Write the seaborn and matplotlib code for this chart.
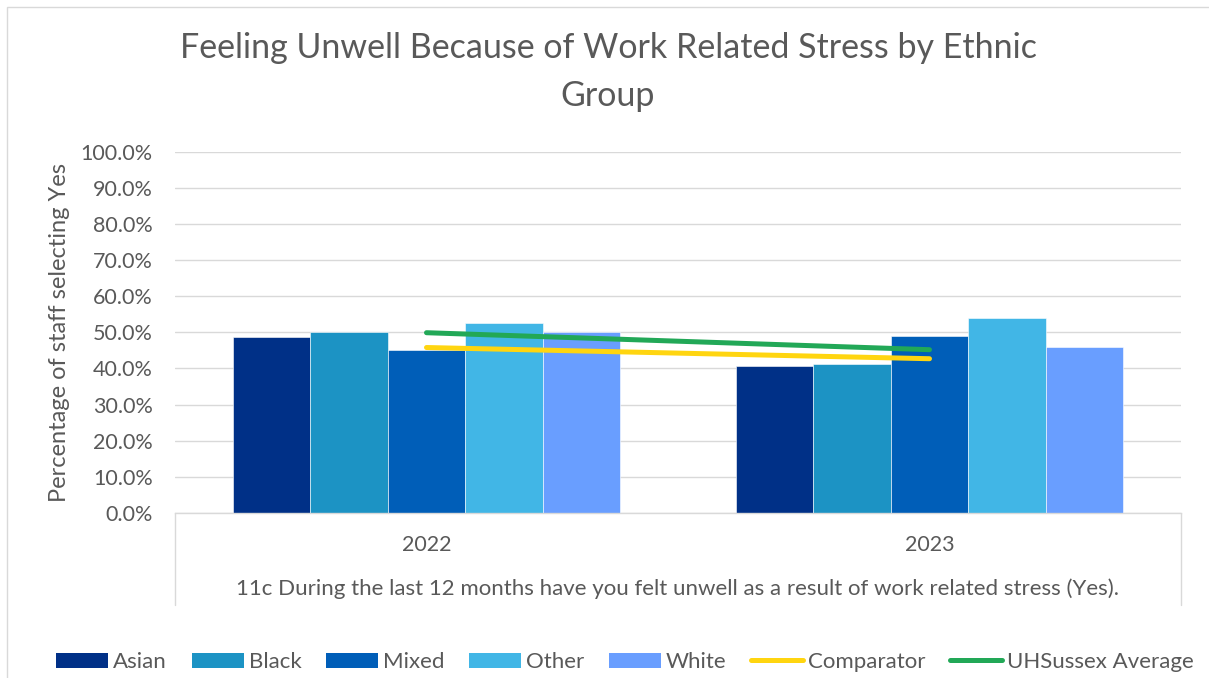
import numpy as np
import pandas as pd
import matplotlib
matplotlib.use("Agg")
import matplotlib.pyplot as plt
import seaborn as sns
from matplotlib.patches import Patch, Rectangle
from matplotlib.lines import Line2D

# 数据
years = ["2022", "2023"]
groups = ["Asian", "Black", "Mixed", "Other", "White"]
asian = [0.487, 0.407]
black = [0.500, 0.413]
mixed = [0.450, 0.490]
other = [0.525, 0.539]
white = [0.500, 0.459]
comparator = [0.458, 0.427]
uhsussex_avg = [0.499, 0.452]

bar_colors = ["#003087", "#1C93C4", "#005EB8", "#41B6E6", "#699EFF"]
comp_color = "#FFD510"
avg_color = "#22A857"
text_color = "#595959"
grid_color = "#D9D9D9"

df = pd.DataFrame({
    "year": years * len(groups),
    "group": [g for g in groups for _ in years],
    "value": asian + black + mixed + other + white,
})

sns.set_theme(style="white")
plt.rcParams["font.family"] = ["Lato", "DejaVu Sans"]

fig = plt.figure(figsize=(12.09, 6.78), dpi=100)
ax = fig.add_axes([175 / 1209, 1 - 513 / 678, (1181 - 175) / 1209, (513 - 151.7) / 678])

sns.barplot(data=df, x="year", y="value", hue="group", hue_order=groups,
            palette=bar_colors, width=0.77, saturation=1, legend=False,
            edgecolor="white", linewidth=0.4, ax=ax, zorder=2)

xpos = np.arange(len(years))
sns.lineplot(x=xpos, y=comparator, color=comp_color, linewidth=3.6,
             solid_capstyle="round", ax=ax, zorder=3)
sns.lineplot(x=xpos, y=uhsussex_avg, color=avg_color, linewidth=3.6,
             solid_capstyle="round", ax=ax, zorder=4)

ax.set_xlim(-0.5, len(years) - 0.5)
ax.set_ylim(0, 1.0)
ax.set_yticks(np.arange(0, 1.01, 0.1))
ax.yaxis.set_major_formatter(matplotlib.ticker.FuncFormatter(lambda v, _: f"{v*100:.1f}%"))
ax.yaxis.grid(True, color=grid_color, linewidth=1.0, zorder=0)
ax.set_axisbelow(True)
for s in ["left", "right", "top"]:
    ax.spines[s].set_visible(False)
ax.spines["bottom"].set_color(grid_color)
ax.spines["bottom"].set_linewidth(1.0)

ax.tick_params(axis="y", labelsize=15.5, colors=text_color, length=0, pad=16)
ax.tick_params(axis="x", labelsize=15.5, colors=text_color, length=0, pad=16)
ax.set_xlabel("")
ax.set_ylabel("Percentage of staff selecting Yes", fontsize=17, color=text_color, labelpad=8)

# 多级类别轴的框线
box_depth = (605 - 513) / (513 - 151.7)
for xa in [0, 1]:
    ax.plot([xa, xa], [0, -box_depth], transform=ax.transAxes, color=grid_color,
            linewidth=1.0, clip_on=False)
ax.text(0.5, -(589 - 513) / (513 - 151.7),
        "11c During the last 12 months have you felt unwell as a result of work related stress (Yes).",
        transform=ax.transAxes, ha="center", va="center", fontsize=16, color=text_color)

fig.text(608 / 1209, 1 - 72 / 678, "Feeling Unwell Because of Work Related Stress by Ethnic\nGroup",
         ha="center", va="center", fontsize=24.5, color=text_color, linespacing=1.62)

# 外框
fig.add_artist(Rectangle((7 / 1209, -0.1), 1.2, 1 - 7 / 678 + 0.1, transform=fig.transFigure,
                         fill=False, edgecolor=grid_color, linewidth=1.0))

handles = [Patch(facecolor=c, edgecolor="none") for c in bar_colors]
handles += [Line2D([0], [0], color=comp_color, linewidth=3.6, solid_capstyle="round"),
            Line2D([0], [0], color=avg_color, linewidth=3.6, solid_capstyle="round")]
labels = groups + ["Comparator", "UHSussex Average"]
fig.legend(handles, labels, loc="center", bbox_to_anchor=(625 / 1209, 1 - 662 / 678),
           ncol=7, frameon=False, fontsize=16, labelcolor=text_color,
           handlelength=2.35, handleheight=0.65, handletextpad=0.22, columnspacing=1.1)

fig.savefig("out.png", dpi=100)
